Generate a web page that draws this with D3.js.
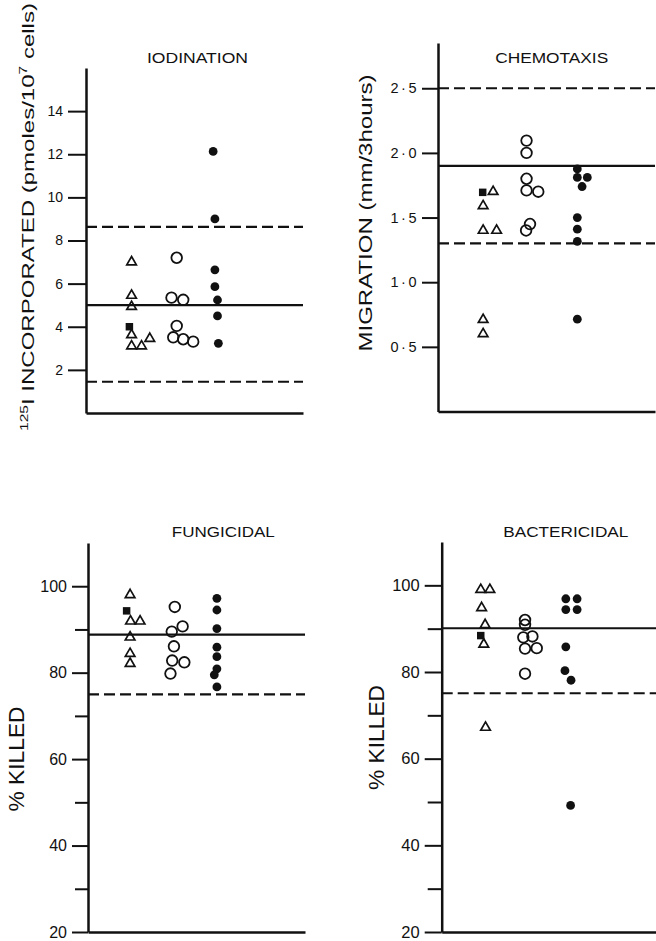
<!DOCTYPE html>
<html lang="en">
<head>
<meta charset="utf-8">
<style>
  body { margin: 0; background: #fff; }
  svg { display: block; background: #fff; }
  text { font-family: "Liberation Sans", Arial, sans-serif; fill: #111; }
</style>
</head>
<body>
<svg width="656" height="941"></svg>
<script src="https://cdn.jsdelivr.net/npm/d3@7/dist/d3.min.js"></script>
<script>
// ---------------------------------------------------------------
// Data: [column position, value]
// ---------------------------------------------------------------
// Iodination (pmoles / 10^7 cells)
const iodTriangles = [[1.05, 7.0], [1.05, 5.45], [1.05, 4.93], [1.05, 3.62], [1.05, 3.1], [1.28, 3.1], [1.47, 3.45]];
const iodSquares = [[1.0, 4.0]];
const iodOpen = [[2.09, 7.2], [1.97, 5.35], [2.24, 5.25], [2.09, 4.04], [2.01, 3.51], [2.24, 3.42], [2.47, 3.31]];
const iodFilled = [[2.93, 12.13], [2.97, 9.0], [2.97, 6.64], [2.97, 5.86], [3.03, 5.24], [3.03, 4.5], [3.05, 3.23]];
const iodMean = 5.0;
const iodLimits = [8.63, 1.45];
const iodTicks = [2, 4, 6, 8, 10, 12, 14];

// Chemotaxis (mm / 3 hours)
const chemoTriangles = [[1.27, 1.70], [1.04, 1.59], [1.04, 1.40], [1.35, 1.40], [1.04, 0.71], [1.04, 0.60]];
const chemoSquares = [[1.03, 1.695]];
const chemoOpen = [[2.04, 2.095], [2.04, 2.0], [2.04, 1.80], [2.04, 1.71], [2.31, 1.70], [2.12, 1.45], [2.03, 1.40]];
const chemoFilled = [[3.21, 1.876], [3.21, 1.81], [3.44, 1.81], [3.32, 1.74], [3.21, 1.50], [3.21, 1.41], [3.21, 1.315], [3.21, 0.714]];
const chemoMean = 1.9;
const chemoLimits = [2.5, 1.3];
const chemoTicks = [0.5, 1.0, 1.5, 2.0, 2.5];

// Fungicidal (% killed)
const fungTriangles = [[0.97, 98.0], [0.98, 91.9], [1.2, 91.9], [0.97, 88.2], [0.97, 84.4], [0.97, 82.1]];
const fungSquares = [[0.89, 94.3]];
const fungOpen = [[2.0, 95.2], [1.93, 89.5], [2.18, 90.7], [1.98, 86.1], [1.94, 82.8], [2.22, 82.4], [1.9, 79.8]];
const fungFilled = [[2.97, 97.2], [2.97, 94.5], [2.97, 90.2], [2.97, 85.9], [2.97, 83.7], [2.97, 80.9], [2.91, 79.5], [2.97, 76.7]];
const fungMean = 88.8;
const fungLimits = [75.0];

// Bactericidal (% killed)
const bactTriangles = [[0.9, 99.0], [1.11, 99.0], [0.92, 94.8], [1.0, 90.9], [0.97, 86.4], [1.01, 67.2]];
const bactSquares = [[0.9, 88.4]];
const bactOpen = [[1.92, 92.0], [1.92, 90.9], [1.88, 88.0], [2.09, 88.2], [1.92, 85.4], [2.19, 85.5], [1.92, 79.6]];
const bactFilled = [[2.86, 96.9], [3.12, 96.9], [2.86, 94.4], [3.12, 94.4], [2.86, 85.8], [2.84, 80.3], [2.98, 78.1], [2.97, 49.2]];
const bactMean = 90.1;
const bactLimits = [75.1];

const killTicks = [20, 30, 40, 50, 60, 70, 80, 90, 100];
const killLabelled = [20, 40, 60, 80, 100];

const svg = d3.select("svg");

/******************************************************************
* One panel
******************************************************************/
function drawPanel(p) {
    const g = svg.append("g").attr("transform", `translate(${p.left},0)`);

    const x = d3.scaleLinear().domain([0, 5]).range([0, 217]);
    const y = d3.scaleLinear().domain(p.yDomain).range([p.bottom, p.top]);

    // Y axis
    const yAxis = g.append("g")
        .call(d3.axisLeft(y)
            .tickValues(p.ticks)
            .tickSize(p.tickSize)
            .tickSizeOuter(0)
            .tickPadding(p.pad)
            .tickFormat(p.format));
    yAxis.select(".domain").attr("stroke", "#111").attr("stroke-width", 2.5);
    yAxis.selectAll(".tick line").attr("stroke", "#111").attr("stroke-width", 2)
        .attr("x2", d => p.minor && p.minor(d) ? -p.tickSize + 3 : -p.tickSize);
    yAxis.selectAll(".tick text")
        .attr("font-size", p.tickFont)
        .attr("letter-spacing", p.tickSpacing || 0)
        .attr("fill", "#111");

    // X axis (bare baseline)
    g.append("g")
        .attr("transform", `translate(0,${p.bottom})`)
        .call(d3.axisBottom(x).tickValues([]).tickSizeOuter(0))
        .select(".domain").attr("stroke", "#111").attr("stroke-width", 2.4);

    // Mean and limit lines
    g.append("line")
        .attr("x1", x(0)).attr("x2", x(5))
        .attr("y1", y(p.mean)).attr("y2", y(p.mean))
        .attr("stroke", "#111").attr("stroke-width", 2.2);
    g.selectAll(".limit").data(p.limits).join("line")
        .attr("class", "limit")
        .attr("x1", x(0)).attr("x2", x(5))
        .attr("y1", d => y(d)).attr("y2", d => y(d))
        .attr("stroke", "#111").attr("stroke-width", 2.2)
        .attr("stroke-dasharray", "11,5");

    // Points
    g.selectAll(".tri").data(p.triangles).join("path")
        .attr("class", "tri")
        .attr("d", d3.symbol(d3.symbolTriangle, 40))
        .attr("transform", d => `translate(${x(d[0])},${y(d[1])})`)
        .attr("fill", "none").attr("stroke", "#111").attr("stroke-width", 1.7);
    g.selectAll(".sq").data(p.squares).join("path")
        .attr("class", "sq")
        .attr("d", d3.symbol(d3.symbolSquare, 56))
        .attr("transform", d => `translate(${x(d[0])},${y(d[1])})`)
        .attr("fill", "#111");
    g.selectAll(".open").data(p.open).join("circle")
        .attr("class", "open")
        .attr("cx", d => x(d[0])).attr("cy", d => y(d[1])).attr("r", 5.3)
        .attr("fill", "none").attr("stroke", "#111").attr("stroke-width", 1.8);
    g.selectAll(".filled").data(p.filled).join("circle")
        .attr("class", "filled")
        .attr("cx", d => x(d[0])).attr("cy", d => y(d[1])).attr("r", 4.4)
        .attr("fill", "#111");

    // Title
    svg.append("text")
        .attr("x", p.title.x).attr("y", p.title.y)
        .attr("text-anchor", "middle")
        .attr("font-size", 14)
        .attr("textLength", p.title.len).attr("lengthAdjust", "spacingAndGlyphs")
        .text(p.title.text);

    // Y label
    const lab = svg.append("text")
        .attr("transform", `translate(${p.ylab.x},${p.ylab.y}) rotate(-90)`)
        .attr("text-anchor", "middle")
        .attr("font-size", p.ylab.size)
        .attr("textLength", p.ylab.len).attr("lengthAdjust", "spacingAndGlyphs");
    p.ylab.parts.forEach(part => {
        lab.append("tspan")
            .attr("dy", part.dy || 0)
            .attr("font-size", part.size || null)
            .text(part.t);
    });
}

const dotFormat = d => d.toFixed(1).replace(".", "\u00b7");

drawPanel({
    left: 86, top: 68, bottom: 413, yDomain: [0, 16],
    ticks: iodTicks, tickSize: 18, pad: 5, tickFont: 14, format: d3.format("d"),
    triangles: iodTriangles, squares: iodSquares, open: iodOpen, filled: iodFilled,
    mean: iodMean, limits: iodLimits,
    title: { text: "IODINATION", x: 197.5, y: 63, len: 101 },
    ylab: { x: 33.5, y: 217, size: 17, len: 428, parts: [
        { t: "125", size: 11, dy: -6 },
        { t: "I INCORPORATED  (pmoles/10", dy: 6 },
        { t: "7", size: 11, dy: -7 },
        { t: " cells)", dy: 7 }
    ] }
});

drawPanel({
    left: 438, top: 43, bottom: 411.5, yDomain: [0, 2.85],
    ticks: chemoTicks, tickSize: 16, pad: 3, tickFont: 14.5, tickSpacing: 2.5, format: dotFormat,
    triangles: chemoTriangles, squares: chemoSquares, open: chemoOpen, filled: chemoFilled,
    mean: chemoMean, limits: chemoLimits,
    title: { text: "CHEMOTAXIS", x: 551.7, y: 63, len: 113 },
    ylab: { x: 372, y: 213, size: 18.5, len: 277, parts: [{ t: "MIGRATION  (mm/3hours)" }] }
});

drawPanel({
    left: 88, top: 543, bottom: 932, yDomain: [20, 110],
    ticks: killTicks, tickSize: 16, pad: 5, tickFont: 16,
    format: d => killLabelled.includes(d) ? d : "",
    minor: d => !killLabelled.includes(d),
    triangles: fungTriangles, squares: fungSquares, open: fungOpen, filled: fungFilled,
    mean: fungMean, limits: fungLimits,
    title: { text: "FUNGICIDAL", x: 223.3, y: 537, len: 103 },
    ylab: { x: 23.5, y: 759, size: 22, len: 105, parts: [{ t: "% KILLED" }] }
});

drawPanel({
    left: 441.7, top: 542, bottom: 932, yDomain: [20, 110],
    ticks: killTicks, tickSize: 17, pad: 5, tickFont: 16.5,
    format: d => killLabelled.includes(d) ? d : "",
    minor: d => !killLabelled.includes(d),
    triangles: bactTriangles, squares: bactSquares, open: bactOpen, filled: bactFilled,
    mean: bactMean, limits: bactLimits,
    title: { text: "BACTERICIDAL", x: 565.8, y: 536.7, len: 125 },
    ylab: { x: 383.5, y: 737.5, size: 22, len: 105, parts: [{ t: "% KILLED" }] }
});
</script>
</body>
</html>
